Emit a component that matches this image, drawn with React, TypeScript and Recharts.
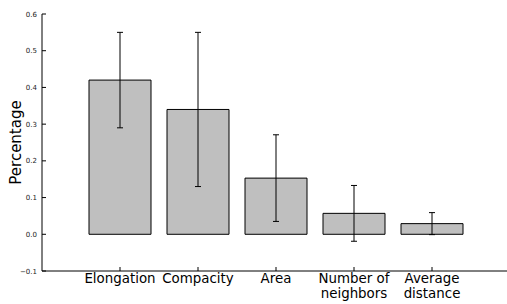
import { ComposedChart, Bar, ErrorBar, XAxis, YAxis } from 'recharts';

const categories = ['Elongation', 'Compacity', 'Area', 'Number of\nneighbors', 'Average\ndistance'];
const means = [0.42, 0.34, 0.153, 0.057, 0.029];
const errors = [0.13, 0.21, 0.118, 0.076, 0.03];
const yTicks = [-0.1, 0, 0.1, 0.2, 0.3, 0.4, 0.5, 0.6];

const data = categories.map((name, i) => ({ name, value: means[i], err: errors[i] }));

const FONT = 'DejaVu Sans, sans-serif';

function YTick({ x, y, payload }: any) {
  const v = payload.value as number;
  const label = v < 0 ? '\u2212' + Math.abs(v).toFixed(1) : v.toFixed(1);
  return (
    <g>
      {/* inward tick */}
      <line x1={x + 5} x2={x + 9} y1={y} y2={y} stroke="#000" strokeWidth={1} />
      <text x={x} y={y} dy={2.5} textAnchor="end" fontSize={7} fill="#222" fontFamily={FONT}>
        {label}
      </text>
    </g>
  );
}

function XTick({ x, y, payload }: any) {
  const lines = String(payload.value).split('\n');
  return (
    <g>
      <line x1={x} x2={x} y1={y} y2={y - 4} stroke="#000" strokeWidth={1} />
      {lines.map((l, i) => (
        <text key={i} x={x} y={y + 12 + i * 15} textAnchor="middle" fontSize={13.4} fill="#000" fontFamily={FONT}>
          {l}
        </text>
      ))}
    </g>
  );
}

function TopTick({ x, y }: any) {
  return <line x1={x} x2={x} y1={y} y2={y + 2} stroke="#000" strokeWidth={1} />;
}

export default function App() {
  return (
    <div style={{ position: 'absolute', left: 0, top: 0, width: 507, height: 304, overflow: 'hidden', background: '#fff' }}>
      <ComposedChart
        width={520}
        height={304}
        data={data}
        margin={{ top: 14, right: 10, bottom: 0, left: 0 }}
      >
        <XAxis
          dataKey="name"
          height={33}
          padding={{ left: 39, right: 39 }}
          axisLine={{ stroke: '#000', strokeWidth: 1 }}
          tickLine={false}
          tickSize={0}
          tickMargin={0}
          interval={0}
          tick={<XTick />}
        />
        <XAxis
          xAxisId="top"
          orientation="top"
          dataKey="name"
          height={0}
          padding={{ left: 39, right: 39 }}
          axisLine={{ stroke: '#000', strokeWidth: 1 }}
          tickLine={false}
          tickSize={0}
          tickMargin={0}
          interval={0}
          tick={<TopTick />}
        />
        <YAxis
          type="number"
          width={42}
          domain={[-0.1, 0.6]}
          ticks={yTicks}
          allowDataOverflow
          axisLine={{ stroke: '#000', strokeWidth: 1 }}
          tickLine={false}
          tickSize={0}
          tickMargin={5}
          tick={<YTick />}
          label={{
            value: 'Percentage',
            angle: -90,
            position: 'insideLeft',
            dx: 11,
            style: { fontSize: 15, fill: '#000', fontFamily: FONT, textAnchor: 'middle' },
          }}
        />
        <Bar dataKey="value" barSize={62} fill="#bfbfbf" stroke="#000" strokeWidth={1} isAnimationActive={false}>
          <ErrorBar dataKey="err" width={3} stroke="#000" strokeWidth={1} direction="y" />
        </Bar>
      </ComposedChart>
    </div>
  );
}
